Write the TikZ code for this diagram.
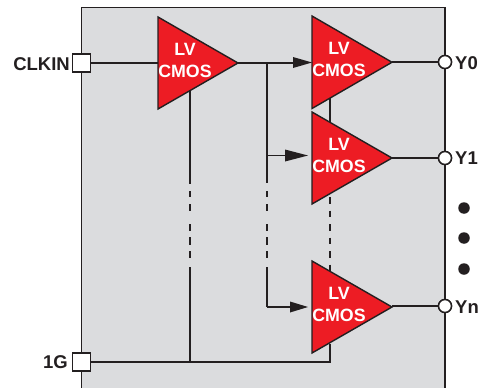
\documentclass[tikz,border=0pt]{standalone}
\usepackage{fontspec}
\setmainfont{Liberation Sans}
\definecolor{panel}{HTML}{DBDCDE}
\definecolor{ampred}{HTML}{ED1C24}
\definecolor{ink}{HTML}{231F20}
\tikzset{
  wire/.style={draw=ink,line width=1.6pt},
  gapleft/.style={wire,dash pattern=on 93pt off 7pt on 6pt off 7pt on 7pt off 13pt on 7pt off 6pt on 8pt off 6pt on 7pt off 9pt on 120pt},
  gapclk/.style={wire,dash pattern=on 120pt off 8pt on 6pt off 7pt on 7pt off 13pt on 7pt off 6pt on 8pt off 6pt on 7pt off 9pt on 120pt},
  gapen/.style={wire,dash pattern=on 6.5pt off 7pt},
  amp/.style={fill=ampred,draw=ink,line width=1.4pt,line join=miter},
  amptext/.style={text=white,font=\fontsize{17.8}{18}\selectfont\bfseries,inner sep=0pt,anchor=center},
  pinlabel/.style={text=ink,font=\fontsize{18.5}{19}\selectfont\bfseries,inner sep=0pt},
  pad/.style={draw=ink,fill=white,line width=1.5pt,minimum size=18pt,inner sep=0pt},
  ball/.style={circle,draw=ink,fill=white,line width=1.5pt,minimum size=13pt,inner sep=0pt},
  dotmark/.style={circle,fill=ink,minimum size=11.5pt,inner sep=0pt},
  tip/.style={fill=ink,draw=none},
}
\newcommand{\ampshape}[4]{% name, left x, top y, height
  \coordinate (#1tl) at (#2,#3);
  \coordinate (#1bl) at (#2,#3+#4);
  \coordinate (#1tip) at (#2+80,#3+#4/2);
  \coordinate (#1in) at (#2,#3+#4/2);
  \path[amp] (#1tl) -- (#1tip) -- (#1bl) -- cycle;
  \node[amptext] (#1lv) at (#2+27,#3+32) {LV};
  \node[amptext] (#1cmos) at (#2+27,#3+54) {CMOS};
}
\newcommand{\arrowtip}[4]{% tip x, y, length, half height
  \path[tip] (#1,#2) -- (#1-#3,#2-#4) -- (#1-#3,#2+#4) -- cycle;
}
\begin{document}
\begin{tikzpicture}[x=1pt,y=-1pt]
\useasboundingbox (0,0) rectangle (479,388);
\path[fill=panel] (81.5,7.5) rectangle (445,388);
\draw[ink,line width=1.4pt] (81.5,388) -- (81.5,7.5) -- (445,7.5) -- (445,388);

% pins
\node[pad] (clkin) at (81.5,63) {};
\node[pad] (gate) at (81.5,362) {};
\node[ball] (y0) at (445,62) {};
\node[ball] (y1) at (445,158) {};
\node[ball] (yn) at (445,306) {};

% junction coordinates
\coordinate (jclk) at (267,63);
\coordinate (jen) at (190,362);
\coordinate (jy1) at (267,155.5);
\coordinate (jyn) at (267,307);
\coordinate (aclk) at (190,91);
\coordinate (ay0) at (330,97);
\coordinate (ay1top) at (330,122);
\coordinate (ay1bot) at (330,197);
\coordinate (ayntop) at (330,272);
\coordinate (aynbot) at (330,362);
\coordinate (aynend) at (330,344);

% wires beneath the triangles
\path[wire] (clkin.east) -- (158,63);
\path[gapleft] (aclk) -- (jen);
\path[wire] (gate.east) -- (aynbot) -- (aynend);
\path[wire] (ay0) -- (ay1top);
\path[gapen] (ay1bot) -- (ayntop);
\path[wire] (237,63) -- (jclk) -- (293,63);
\path[gapclk] (jclk) -- (jyn);
\path[wire] (jy1) -- (290,155.5);
\path[wire] (jyn) -- (295,307);
\path[wire] (392,62) -- (y0.west);
\path[wire] (392,158) -- (y1.west);
\path[wire] (392,306) -- (yn.west);

% amplifiers
\ampshape{a}{158}{17}{92}
\ampshape{b}{312}{16}{92.5}
\ampshape{c}{312}{112}{92}
\ampshape{d}{312}{261}{92}

% arrowheads
\arrowtip{312}{62.5}{19}{5.5}
\arrowtip{308}{155.5}{23}{6}
\arrowtip{308}{307}{18}{5.5}

% redraw pads and balls over wires
\node[pad] at (clkin) {};
\node[pad] at (gate) {};
\node[ball] at (y0) {};
\node[ball] at (y1) {};
\node[ball] at (yn) {};

% labels
\node[pinlabel,anchor=east] (lclk) at (70,64) {CLKIN};
\node[pinlabel,anchor=east] (lg) at (68,362) {1G};
\node[pinlabel,anchor=west] (ly0) at (455,63) {Y0};
\node[pinlabel,anchor=west] (ly1) at (455,158) {Y1};
\node[pinlabel,anchor=west] (lyn) at (455,307) {Yn};

\node[dotmark] (d1) at (464,208) {};
\node[dotmark] (d2) at (464,238) {};
\node[dotmark] (d3) at (464,269) {};
\end{tikzpicture}
\end{document}
